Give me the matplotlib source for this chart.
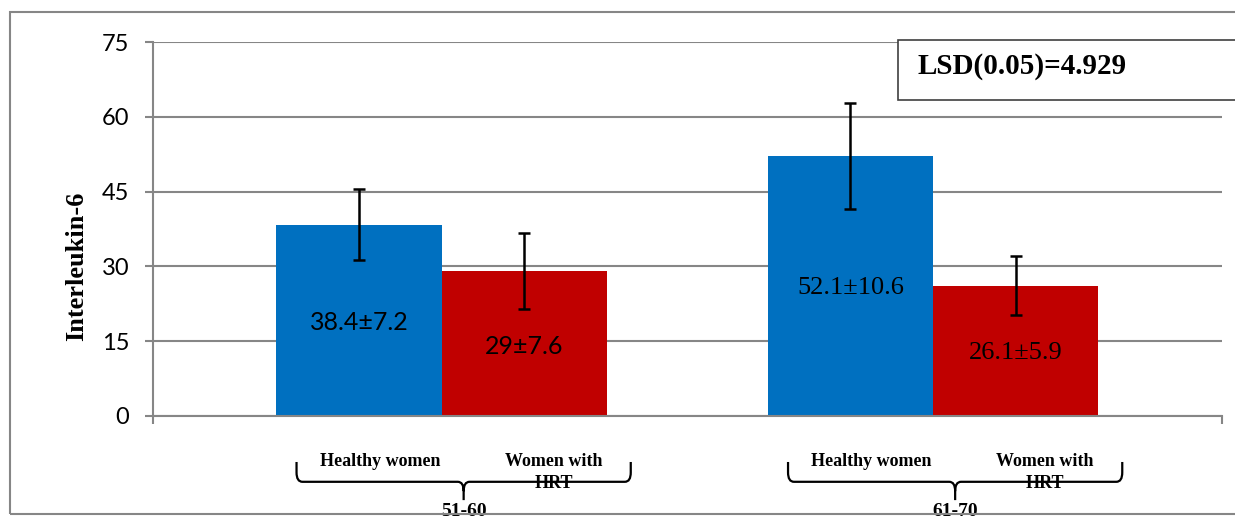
import numpy as np
import matplotlib.pyplot as plt
from matplotlib.path import Path
from matplotlib.patches import PathPatch, Rectangle
from matplotlib.transforms import blended_transform_factory

# Interleukin-6 by age group, mean and SD
age_groups = ["51-60", "61-70"]
groups = ["Healthy women", "Women with\nHRT"]
healthy_mean = [38.4, 52.1]
healthy_sd = [7.2, 10.6]
hrt_mean = [29.0, 26.1]
hrt_sd = [7.6, 5.9]
yticks = [0, 15, 30, 45, 60, 75]
lsd_text = "LSD(0.05)=4.929"

grid_c = "#868686"
blue = "#0070C0"
red = "#C00000"

fig = plt.figure(figsize=(12.35, 5.22), dpi=100)
ax = fig.add_axes([0.1239, 0.2031, 0.9895 - 0.1239, 0.9195 - 0.2031])

x = np.arange(len(age_groups))
w = 0.336
ax.bar(x - w / 2, healthy_mean, w, color=blue, zorder=2)
ax.bar(x + w / 2, hrt_mean, w, color=red, zorder=2)
ax.errorbar(x - w / 2, healthy_mean, yerr=healthy_sd, fmt="none", ecolor="black",
            elinewidth=1.8, capsize=4, capthick=1.8, zorder=3)
ax.errorbar(x + w / 2, hrt_mean, yerr=hrt_sd, fmt="none", ecolor="black",
            elinewidth=1.8, capsize=4, capthick=1.8, zorder=3)

# value labels inside the bars
lab_y = [(18.8, 14.0), (25.6, 12.6)]
fonts = [("Lato", 18), ("Liberation Serif", 19)]
for i in range(len(age_groups)):
    fam, fs = fonts[i]
    ax.text(x[i] - w / 2, lab_y[i][0], f"{healthy_mean[i]:g}\u00b1{healthy_sd[i]:g}",
            ha="center", va="center", fontsize=fs, family=fam, zorder=4)
    ax.text(x[i] + w / 2, lab_y[i][1], f"{hrt_mean[i]:g}\u00b1{hrt_sd[i]:g}",
            ha="center", va="center", fontsize=fs, family=fam, zorder=4)

ax.set_ylim(0, 75)
ax.set_xlim(-0.587, 1.588)
ax.set_yticks(yticks)
ax.set_yticklabels([str(t) for t in yticks], family="Lato", fontsize=17)
ax.yaxis.grid(True, color=grid_c, lw=1.5, zorder=0)
ax.tick_params(axis="y", length=6, width=1.5, color=grid_c, pad=11)
ax.set_xticks([-0.587, 1.588])
ax.set_xticklabels([])
ax.tick_params(axis="x", length=6, width=1.5, color=grid_c)
for s in ["top", "right"]:
    ax.spines[s].set_visible(False)
for s in ["left", "bottom"]:
    ax.spines[s].set_color(grid_c)
    ax.spines[s].set_linewidth(1.5)
ax.set_ylabel("Interleukin-6", family="Liberation Serif", fontweight="bold",
              fontsize=19)
ax.yaxis.set_label_coords(-0.061, 0.40)

# group labels and braces under the axis
trans = blended_transform_factory(ax.transData, ax.transAxes)
serif = dict(family="Liberation Serif", fontweight="bold", transform=trans,
             ha="center", va="center", clip_on=False)
y_top, y_h, y_tip = -0.123, -0.176, -0.225
rx, ry = 0.012, 0.025
for i, g in enumerate(age_groups):
    x0, x1, xm = x[i] - 0.295, x[i] + 0.385, x[i] + 0.045
    verts = [(x0, y_top), (x0, y_h + ry), (x0, y_h), (x0 + rx, y_h),
             (xm - rx, y_h), (xm, y_h), (xm, y_h - ry), (xm, y_tip),
             (xm, y_h - ry), (xm, y_h), (xm + rx, y_h),
             (x1 - rx, y_h), (x1, y_h), (x1, y_h + ry), (x1, y_top)]
    codes = [Path.MOVETO, Path.LINETO, Path.CURVE3, Path.CURVE3,
             Path.LINETO, Path.CURVE3, Path.CURVE3, Path.LINETO,
             Path.MOVETO, Path.CURVE3, Path.CURVE3,
             Path.LINETO, Path.CURVE3, Path.CURVE3, Path.LINETO]
    ax.add_patch(PathPatch(Path(verts, codes), transform=trans, fill=False,
                           lw=1.6, ec="black", clip_on=False))
    ax.text(x[i] - 0.125, y_top, groups[0], fontsize=13, **serif)
    ax.text(x[i] + 0.228, y_top, "Women with", fontsize=13, **serif)
    ax.text(x[i] + 0.228, -0.180, "HRT", fontsize=13, **serif)
    ax.text(xm, -0.279, g, fontsize=14, family="Liberation Serif", fontweight="bold",
            transform=trans, ha="center", va="bottom", clip_on=False)

# outer chart border
fig.patches.append(Rectangle((10 / 1235, 1 - 514 / 522), 1.1, (514 - 12) / 522,
                             transform=fig.transFigure, fill=False, ec=grid_c,
                             lw=1.5, zorder=0))

# LSD box
fig.patches.append(Rectangle((898 / 1235, 1 - 100 / 522), 0.5, 60 / 522,
                             transform=fig.transFigure, fc="white", ec="#404040",
                             lw=1.2, zorder=5))
fig.text(918 / 1235, 1 - 67 / 522, lsd_text, family="Liberation Serif",
         fontweight="bold", fontsize=21, va="center", ha="left", zorder=6)

fig.savefig("out.png", dpi=100)
